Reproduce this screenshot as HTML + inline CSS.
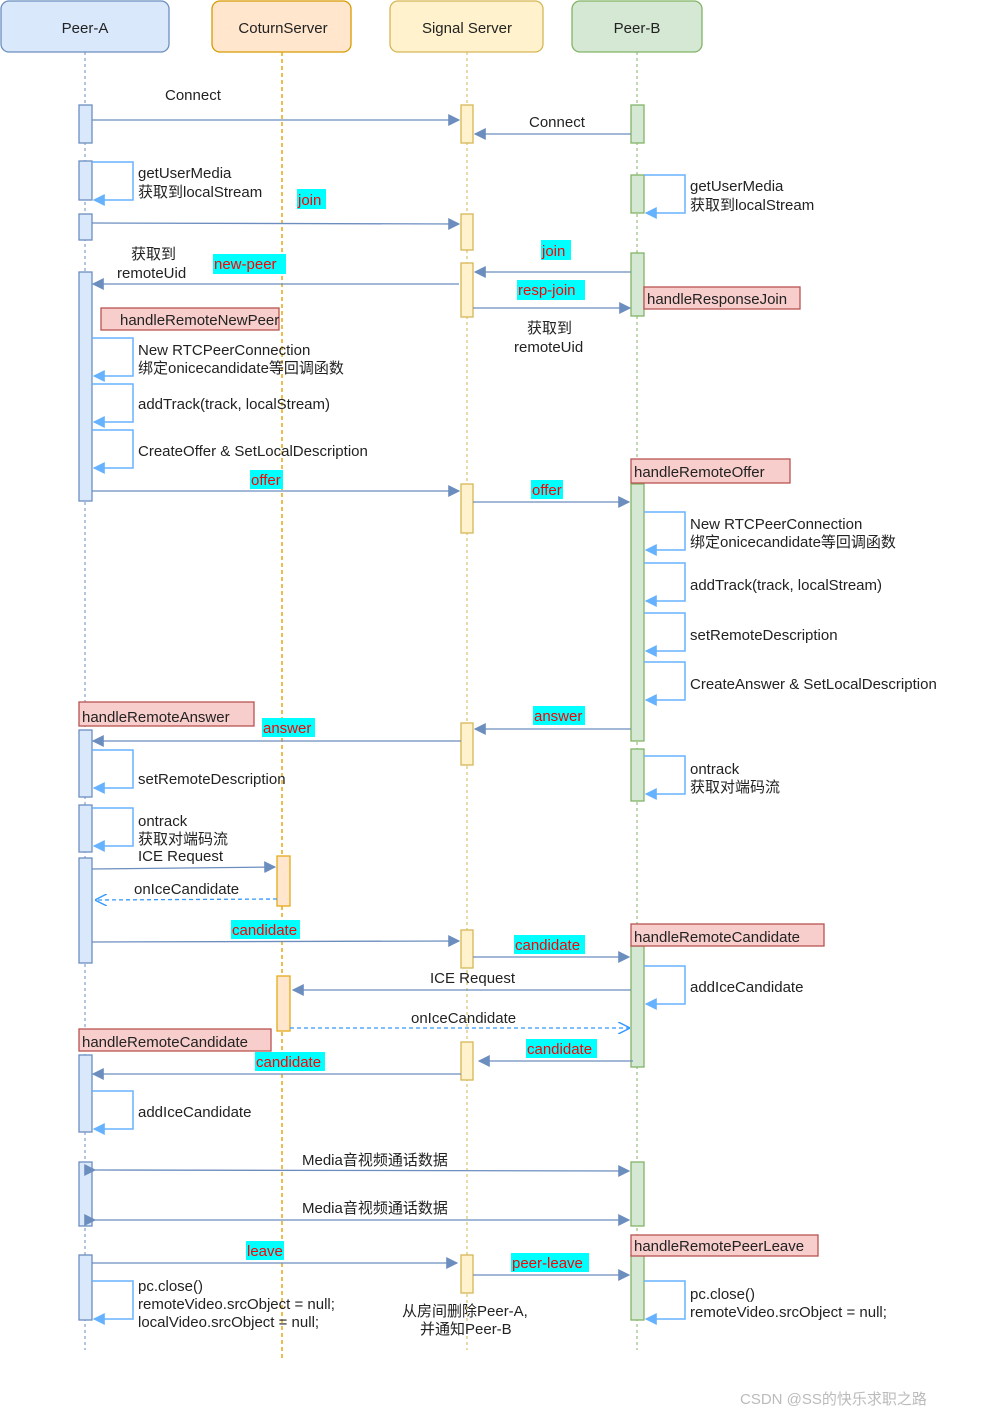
<!DOCTYPE html>
<html><head><meta charset="utf-8"><style>
html,body{margin:0;padding:0;background:#fff}
svg{display:block}
text{font-family:"Liberation Sans","Noto Sans CJK SC",sans-serif;font-size:15px;fill:#222}
.hl{fill:#ff0000}
</style></head><body>
<svg width="991" height="1417" viewBox="0 0 991 1417" xmlns="http://www.w3.org/2000/svg">
<defs>
<marker id="a" viewBox="0 0 10 10" refX="9" refY="5" markerWidth="12" markerHeight="12" markerUnits="userSpaceOnUse" orient="auto"><path d="M0,0L10,5L0,10z" fill="#6c8ebf"/></marker>
<marker id="l" viewBox="0 0 10 10" refX="9" refY="5" markerWidth="12" markerHeight="12" markerUnits="userSpaceOnUse" orient="auto"><path d="M0,0L10,5L0,10z" fill="#66b2ff"/></marker>
<marker id="o" viewBox="0 0 10 10" refX="9" refY="5" markerWidth="12" markerHeight="12" markerUnits="userSpaceOnUse" orient="auto"><path d="M0,0L10,5L0,10" fill="none" stroke="#3399ff" stroke-width="1.2"/></marker>
</defs>
<!-- headers -->
<rect x="1" y="1" width="168" height="51" rx="8" fill="#dae8fc" stroke="#6c8ebf" stroke-width="1.3"/>
<text x="85" y="33" text-anchor="middle" font-size="16">Peer-A</text>
<rect x="212" y="1" width="139" height="51" rx="8" fill="#ffe6cc" stroke="#d79b00" stroke-width="1.3"/>
<text x="283" y="33" text-anchor="middle" font-size="16">CoturnServer</text>
<rect x="390" y="1" width="153" height="51" rx="8" fill="#fff2cc" stroke="#d6b656" stroke-width="1.3"/>
<text x="467" y="33" text-anchor="middle" font-size="16">Signal Server</text>
<rect x="572" y="1" width="130" height="51" rx="8" fill="#d5e8d4" stroke="#82b366" stroke-width="1.3"/>
<text x="637" y="33" text-anchor="middle" font-size="16">Peer-B</text>
<!-- lifelines -->
<line x1="85" y1="52" x2="85" y2="1350" stroke="#6c8ebf" stroke-dasharray="3,3"/>
<line x1="282" y1="52" x2="282" y2="1360" stroke="#e6a817" stroke-width="1.5" stroke-dasharray="4,3"/>
<line x1="467" y1="52" x2="467" y2="1350" stroke="#d6b656" stroke-dasharray="3,3"/>
<line x1="637" y1="52" x2="637" y2="1350" stroke="#82b366" stroke-dasharray="3,3"/>
<!-- activations A -->
<g fill="#dae8fc" stroke="#6c8ebf" stroke-width="1.3">
<rect x="79" y="105" width="13" height="38"/><rect x="79" y="161" width="13" height="39"/><rect x="79" y="214" width="13" height="26"/>
<rect x="79" y="272" width="13" height="229"/><rect x="79" y="730" width="13" height="67"/><rect x="79" y="805" width="13" height="47"/>
<rect x="79" y="858" width="13" height="105"/><rect x="79" y="1055" width="13" height="77"/><rect x="79" y="1162" width="13" height="64"/><rect x="79" y="1255" width="13" height="65"/>
</g>
<g fill="#fff2cc" stroke="#d6b656" stroke-width="1.3">
<rect x="461" y="105" width="12" height="38"/><rect x="461" y="214" width="12" height="36"/><rect x="461" y="263" width="12" height="54"/>
<rect x="461" y="484" width="12" height="49"/><rect x="461" y="723" width="12" height="42"/><rect x="461" y="930" width="12" height="38"/>
<rect x="461" y="1042" width="12" height="38"/><rect x="461" y="1255" width="12" height="38"/>
</g>
<g fill="#ffe6cc" stroke="#e6a817" stroke-width="1.3">
<rect x="277" y="856" width="13" height="50"/><rect x="277" y="976" width="13" height="55"/>
</g>
<g fill="#d5e8d4" stroke="#82b366" stroke-width="1.3">
<rect x="631" y="105" width="13" height="38"/><rect x="631" y="175" width="13" height="38"/><rect x="631" y="253" width="13" height="63"/>
<rect x="631" y="484" width="13" height="257"/><rect x="631" y="749" width="13" height="52"/><rect x="631" y="946" width="13" height="121"/>
<rect x="631" y="1162" width="13" height="64"/><rect x="631" y="1255" width="13" height="65"/>
</g>
<!-- note boxes -->
<g fill="#f8cecc" stroke="#b85450" stroke-width="1.3">
<rect x="101" y="308" width="178" height="22"/><rect x="644" y="287" width="156" height="22"/>
<rect x="631" y="459" width="159" height="24"/><rect x="79" y="702" width="175" height="24"/>
<rect x="631" y="924" width="193" height="22"/><rect x="79" y="1029" width="192" height="22"/>
<rect x="631" y="1235" width="187" height="21"/>
</g>
<!-- arrows -->
<g stroke="#6c8ebf" stroke-width="1.3" fill="none">
<line x1="92" y1="120" x2="459" y2="120" marker-end="url(#a)"/>
<line x1="631" y1="134" x2="475" y2="134" marker-end="url(#a)"/>
<line x1="92" y1="223" x2="459" y2="224" marker-end="url(#a)"/>
<line x1="631" y1="272" x2="475" y2="272" marker-end="url(#a)"/>
<line x1="459" y1="284" x2="93" y2="284" marker-end="url(#a)"/>
<line x1="473" y1="308" x2="630" y2="308" marker-end="url(#a)"/>
<line x1="92" y1="491" x2="459" y2="491" marker-end="url(#a)"/>
<line x1="473" y1="502" x2="629" y2="502" marker-end="url(#a)"/>
<line x1="631" y1="729" x2="475" y2="729" marker-end="url(#a)"/>
<line x1="461" y1="741" x2="93" y2="741" marker-end="url(#a)"/>
<line x1="92" y1="869" x2="275" y2="867" marker-end="url(#a)"/>
<line x1="92" y1="942" x2="459" y2="941" marker-end="url(#a)"/>
<line x1="473" y1="957" x2="629" y2="957" marker-end="url(#a)"/>
<line x1="631" y1="990" x2="293" y2="990" marker-end="url(#a)"/>
<line x1="633" y1="1061" x2="479" y2="1061" marker-end="url(#a)"/>
<line x1="461" y1="1074" x2="93" y2="1074" marker-end="url(#a)"/>
<line x1="95" y1="1170" x2="629" y2="1171" marker-start="url(#a)" marker-end="url(#a)"/>
<line x1="95" y1="1220" x2="629" y2="1220" marker-start="url(#a)" marker-end="url(#a)"/>
<line x1="92" y1="1263" x2="457" y2="1263" marker-end="url(#a)"/>
<line x1="473" y1="1275" x2="629" y2="1275" marker-end="url(#a)"/>
</g>
<g stroke="#3399ff" stroke-width="1.3" fill="none" stroke-dasharray="4,3">
<line x1="277" y1="899" x2="96" y2="900" marker-end="url(#o)"/>
<line x1="290" y1="1028" x2="629" y2="1028" marker-end="url(#o)"/>
</g>
<!-- self loops -->
<g stroke="#66b2ff" stroke-width="1.5" fill="none">
<polyline points="92,162 133,162 133,200 94,200" marker-end="url(#l)"/>
<polyline points="644,175 685,175 685,213 646,213" marker-end="url(#l)"/>
<polyline points="92,338 133,338 133,376 94,376" marker-end="url(#l)"/>
<polyline points="92,384 133,384 133,422 94,422" marker-end="url(#l)"/>
<polyline points="92,430 133,430 133,468 94,468" marker-end="url(#l)"/>
<polyline points="644,512 685,512 685,550 646,550" marker-end="url(#l)"/>
<polyline points="644,563 685,563 685,601 646,601" marker-end="url(#l)"/>
<polyline points="644,613 685,613 685,651 646,651" marker-end="url(#l)"/>
<polyline points="644,662 685,662 685,700 646,700" marker-end="url(#l)"/>
<polyline points="92,750 133,750 133,788 94,788" marker-end="url(#l)"/>
<polyline points="644,756 685,756 685,794 646,794" marker-end="url(#l)"/>
<polyline points="92,808 133,808 133,846 94,846" marker-end="url(#l)"/>
<polyline points="644,966 685,966 685,1004 646,1004" marker-end="url(#l)"/>
<polyline points="92,1091 133,1091 133,1129 94,1129" marker-end="url(#l)"/>
<polyline points="92,1281 133,1281 133,1319 94,1319" marker-end="url(#l)"/>
<polyline points="644,1281 685,1281 685,1319 646,1319" marker-end="url(#l)"/>
</g>
<!-- highlighted labels -->
<g fill="#00ffff">
<rect x="297" y="189" width="29" height="20"/><rect x="213" y="254" width="73" height="20"/>
<rect x="541" y="240" width="30" height="20"/><rect x="517" y="280" width="68" height="20"/>
<rect x="250" y="470" width="33" height="19"/><rect x="531" y="480" width="32" height="19"/>
<rect x="533" y="706" width="52" height="19"/><rect x="262" y="718" width="53" height="19"/>
<rect x="231" y="920" width="69" height="19"/><rect x="514" y="935" width="71" height="19"/>
<rect x="526" y="1039" width="71" height="19"/><rect x="255" y="1052" width="70" height="19"/>
<rect x="246" y="1241" width="38" height="19"/><rect x="511" y="1253" width="78" height="19"/>
</g>
<g class="hl">
<text class="hl" x="298" y="205">join</text><text class="hl" x="214" y="269">new-peer</text>
<text class="hl" x="542" y="256">join</text><text class="hl" x="518" y="295">resp-join</text>
<text class="hl" x="251" y="485">offer</text><text class="hl" x="532" y="495">offer</text>
<text class="hl" x="534" y="721">answer</text><text class="hl" x="263" y="733">answer</text>
<text class="hl" x="232" y="935">candidate</text><text class="hl" x="515" y="950">candidate</text>
<text class="hl" x="527" y="1054">candidate</text><text class="hl" x="256" y="1067">candidate</text>
<text class="hl" x="247" y="1256">leave</text><text class="hl" x="512" y="1268">peer-leave</text>
</g>
<!-- labels -->
<text x="165" y="100" font-size="16">Connect</text>
<text x="529" y="127">Connect</text>
<text x="138" y="178">getUserMedia</text><text x="138" y="197">获取到localStream</text>
<text x="690" y="191">getUserMedia</text><text x="690" y="210">获取到localStream</text>
<text x="131" y="259">获取到</text><text x="117" y="278">remoteUid</text>
<text x="120" y="325">handleRemoteNewPeer</text>
<text x="647" y="304">handleResponseJoin</text>
<text x="527" y="333">获取到</text><text x="514" y="352">remoteUid</text>
<text x="138" y="355">New RTCPeerConnection</text><text x="138" y="373">绑定onicecandidate等回调函数</text>
<text x="138" y="409">addTrack(track, localStream)</text>
<text x="138" y="456">CreateOffer &amp;  SetLocalDescription</text>
<text x="634" y="477">handleRemoteOffer</text>
<text x="690" y="529">New RTCPeerConnection</text><text x="690" y="547">绑定onicecandidate等回调函数</text>
<text x="690" y="590">addTrack(track, localStream)</text>
<text x="690" y="640">setRemoteDescription</text>
<text x="690" y="689">CreateAnswer &amp;  SetLocalDescription</text>
<text x="82" y="722">handleRemoteAnswer</text>
<text x="138" y="784">setRemoteDescription</text>
<text x="690" y="774">ontrack</text><text x="690" y="792">获取对端码流</text>
<text x="138" y="826">ontrack</text><text x="138" y="844">获取对端码流</text><text x="138" y="861">ICE Request</text>
<text x="134" y="894">onIceCandidate</text>
<text x="634" y="942">handleRemoteCandidate</text>
<text x="430" y="983">ICE Request</text>
<text x="690" y="992">addIceCandidate</text>
<text x="411" y="1023">onIceCandidate</text>
<text x="82" y="1047">handleRemoteCandidate</text>
<text x="138" y="1117">addIceCandidate</text>
<text x="302" y="1165">Media音视频通话数据</text>
<text x="302" y="1213">Media音视频通话数据</text>
<text x="634" y="1251">handleRemotePeerLeave</text>
<text x="138" y="1291">pc.close()</text><text x="138" y="1309">remoteVideo.srcObject = null;</text><text x="138" y="1327">localVideo.srcObject = null;</text>
<text x="690" y="1299">pc.close()</text><text x="690" y="1317">remoteVideo.srcObject = null;</text>
<text x="402" y="1316">从房间删除Peer-A,</text><text x="420" y="1334">并通知Peer-B</text>
<text x="740" y="1404" font-size="17" fill="#bbbbbb" style="fill:#bbb">CSDN @SS的快乐求职之路</text>
</svg>
</body></html>
